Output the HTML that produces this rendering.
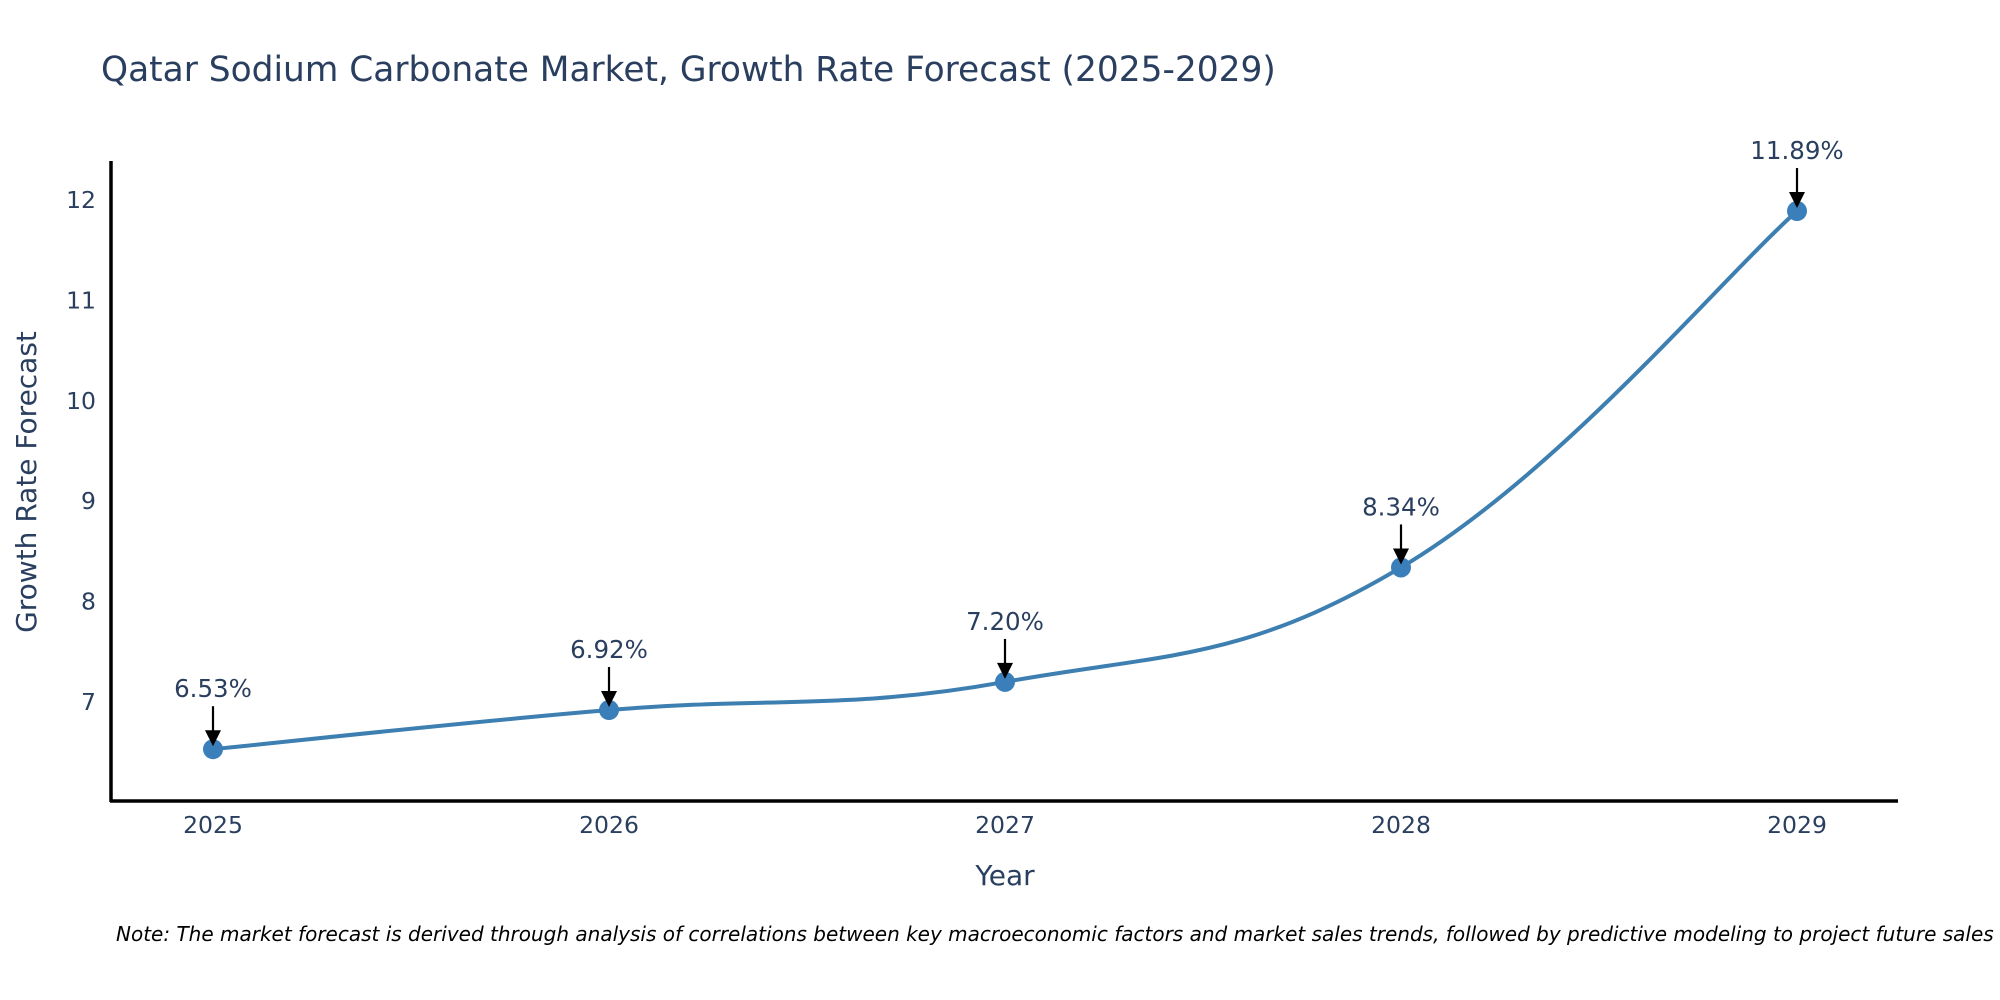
<!DOCTYPE html>
<html><head><meta charset="utf-8"><style>
html,body{margin:0;padding:0;background:#fff;}
svg{display:block;font-family:"DejaVu Sans","Liberation Sans",sans-serif;}
</style></head><body>
<svg id="chart" width="2000" height="1000" viewBox="0 0 2000 1000" xmlns="http://www.w3.org/2000/svg">
<text x="101" y="81" font-size="34.4" fill="#2a3f5f">Qatar Sodium Carbonate Market, Growth Rate Forecast (2025-2029)</text>
<line x1="111" y1="161" x2="111" y2="802" stroke="#000" stroke-width="3.5"/>
<line x1="110" y1="801" x2="1898" y2="801" stroke="#000" stroke-width="3.5"/>
<g id="yticks"></g><g id="xticks"></g>
<path id="line" fill="none" stroke="#3d7fb0" stroke-width="4"/>
<g id="marks"></g>
<text x="1005" y="885" font-size="28" fill="#2a3f5f" text-anchor="middle">Year</text>
<text transform="translate(36,482) rotate(-90)" font-size="28" fill="#2a3f5f" text-anchor="middle">Growth Rate Forecast</text>
<text x="116" y="941" font-size="20" font-style="italic" fill="#000">Note: The market forecast is derived through analysis of correlations between key macroeconomic factors and market sales trends, followed by predictive modeling to project future sales</text>
</svg>
<script>
const years = ["2025","2026","2027","2028","2029"];
const values = [6.53, 6.92, 7.20, 8.34, 11.89];
const labels = ["6.53%","6.92%","7.20%","8.34%","11.89%"];
const yTicks = [7, 8, 9, 10, 11, 12];

const NS = "http://www.w3.org/2000/svg";
function xs(i){ return 213 + i * 396; }
function ys(v){ return 702 - (v - 7) * 100.4; }
function mk(tag, attrs, parent){
  const e = document.createElementNS(NS, tag);
  for (const k in attrs) e.setAttribute(k, attrs[k]);
  parent.appendChild(e); return e;
}
const yg = document.getElementById('yticks');
yTicks.forEach(t => {
  const e = mk('text', {x: 96, y: ys(t) + 8, 'font-size': 23.5, fill: '#2a3f5f', 'text-anchor': 'end'}, yg);
  
  
  e.textContent = t;
});
const xg = document.getElementById('xticks');
years.forEach((y, i) => {
  const e = mk('text', {x: xs(i), y: 833, 'font-size': 23.5, fill: '#2a3f5f', 'text-anchor': 'middle'}, xg);
  
  
  e.textContent = y;
});
const pts = values.map((v, i) => [xs(i), ys(v)]);
let d = `M${pts[0][0]},${pts[0][1]}`;
const s = 0.2;
for (let i = 0; i < pts.length - 1; i++) {
  const p0 = pts[Math.max(0, i - 1)], p1 = pts[i], p2 = pts[i + 1], p3 = pts[Math.min(pts.length - 1, i + 2)];
  const c1 = [p1[0] + (p2[0] - p0[0]) * s, p1[1] + (p2[1] - p0[1]) * s];
  const c2 = [p2[0] - (p3[0] - p1[0]) * s, p2[1] - (p3[1] - p1[1]) * s];
  d += ` C${c1[0]},${c1[1]} ${c2[0]},${c2[1]} ${p2[0]},${p2[1]}`;
}
document.getElementById('line').setAttribute('d', d);
const mg = document.getElementById('marks');
pts.forEach((p, i) => {
  const c = mk('circle', {cx: p[0], cy: p[1], r: 10, fill: '#3a7fba'}, mg);
  
  
  const l = mk('line', {x1: p[0], y1: p[1] - 43, x2: p[0], y2: p[1] - 14, stroke: '#000', 'stroke-width': 2.2}, mg);
  
  
  const a = mk('polygon', {points: `${p[0]-8},${p[1]-19} ${p[0]+8},${p[1]-19} ${p[0]},${p[1]-3}`, fill: '#000'}, mg);
  
  
  const t = mk('text', {x: p[0], y: p[1] - 52, 'font-size': 24.5, fill: '#2a3f5f', 'text-anchor': 'middle'}, mg);
  
  
  t.textContent = labels[i];
});
</script>
</body></html>
